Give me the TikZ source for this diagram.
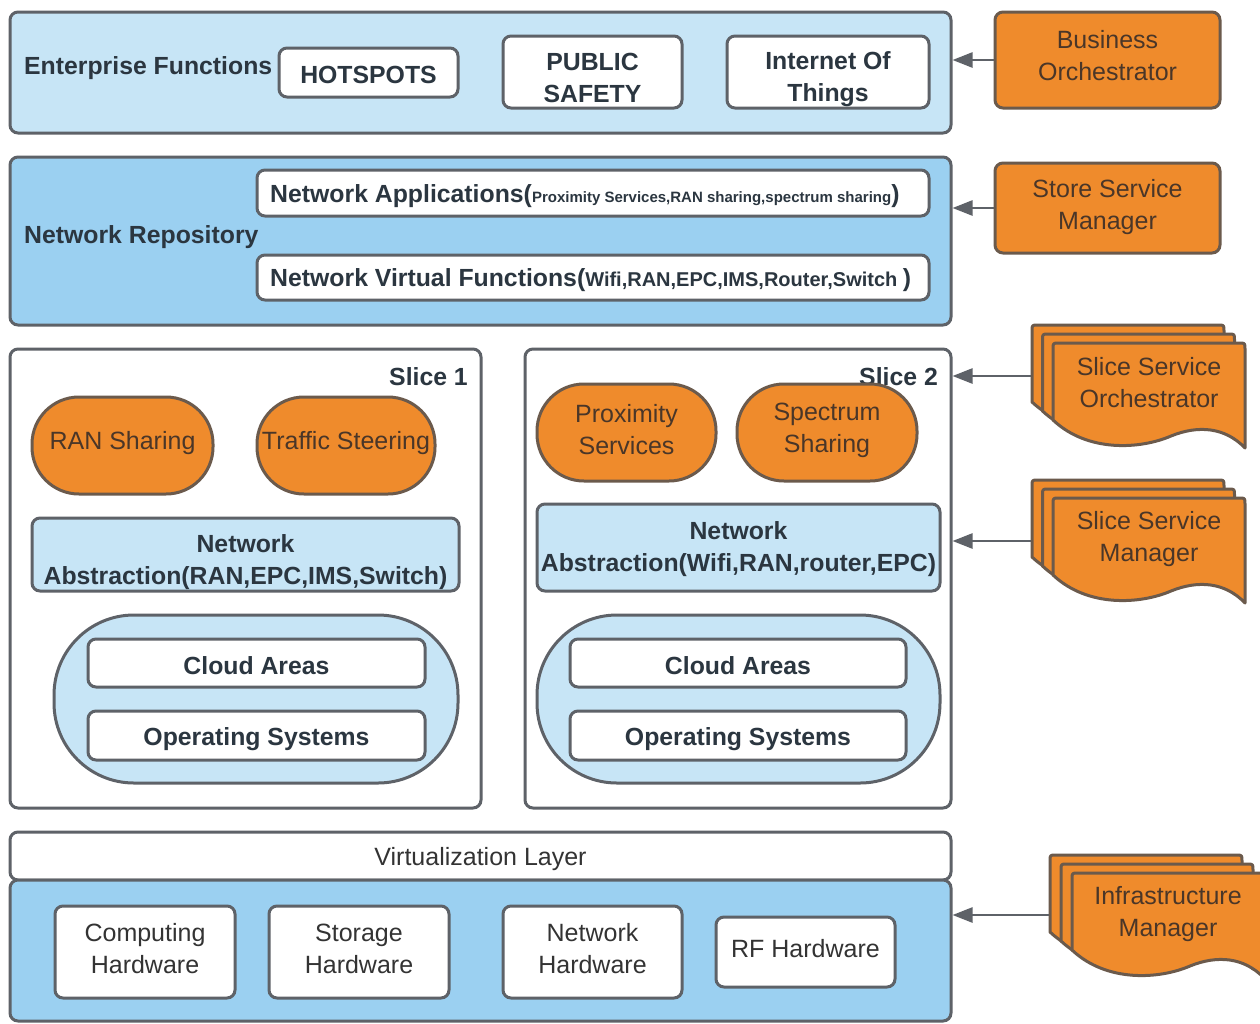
\documentclass[tikz,border=0pt]{standalone}
\usepackage{fontspec}
\setmainfont{Liberation Sans}
\usetikzlibrary{arrows.meta}
\definecolor{lblue}{HTML}{C7E5F6}
\definecolor{mblue}{HTML}{9BD0F1}
\definecolor{orng}{HTML}{EF8B2C}
\definecolor{obrd}{HTML}{6B5A4C}
\definecolor{gbrd}{HTML}{5E6268}
\definecolor{txt}{HTML}{2B3640}
\definecolor{otxt}{HTML}{4A3628}
\definecolor{rtxt}{HTML}{333333}
\newcommand\docshape[2]{%
  \begin{scope}[shift={(#1,#2)}]
    \draw[docst] (0,77) -- (0,6) .. controls (0,0) .. (6,0) -- (186,0)
      .. controls (192,0) .. (192,6) -- (192,105)
      .. controls (172,84) and (145,82) .. (118,93)
      .. controls (88,106) and (35,110) .. (0,77) -- cycle;
  \end{scope}}
\begin{document}
\begin{tikzpicture}[x=1pt,y=-1pt,
  sz/.style n args={2}{minimum width=#1pt,minimum height=#2pt},
  base/.style={draw=gbrd, line width=3pt, rounded corners=8pt, inner sep=0pt},
  wbox/.style={base, fill=white},
  lbox/.style={base, fill=lblue},
  mbox/.style={base, fill=mblue},
  obox/.style={draw=obrd, fill=orng, line width=3pt, rounded corners=8pt, inner sep=0pt},
  pill/.style={obox, rounded corners=47pt},
  cloud/.style={lbox, rounded corners=80pt},
  bt/.style={text=txt, align=center, inner sep=0pt, font=\fontsize{24.8}{32}\selectfont\bfseries},
  rt/.style={text=rtxt, align=center, inner sep=0pt, font=\fontsize{25}{32}\selectfont},
  ot/.style={text=otxt, align=center, inner sep=0pt, font=\fontsize{25}{32}\selectfont},
  docst/.style={draw=obrd, fill=orng, line width=3pt, line join=round},
  conn/.style={draw=gbrd, line width=2.5pt, -{Triangle[length=20pt,width=15pt]}}
]
\useasboundingbox (0,0) rectangle (1260,1023);
\fill[white] (0,0) rectangle (1260,1023);

% Enterprise layer
\node[lbox, sz={941}{121}] (ent) at (480.5,72.5) {};
\node[bt, anchor=west] (entl) at (24,68) {Enterprise Functions};
\node[wbox, sz={179}{49}] (hot) at (368.5,72.5) {};
\node[bt] (hott) at (368.5,75) {HOTSPOTS};
\node[wbox, sz={179}{72}] (pub) at (592.5,72) {};
\node[bt] (pubt) at (592.5,78) {PUBLIC\\SAFETY};
\node[wbox, sz={202}{72}] (iot) at (828,72) {};
\node[bt] (iott) at (828,79) {Internet Of\\Things};
\node[obox, sz={225}{96}] (bo) at (1107.5,60) {};
\node[ot] (bot) at (1107.5,56) {Business\\Orchestrator};
\draw[conn] (bo.west) -- (bo.west -| ent.east);

% Network repository
\node[mbox, sz={941}{168}] (repo) at (480.5,241) {};
\node[bt, anchor=west] (repol) at (24,237) {Network Repository};
\node[wbox, sz={672}{46}] (napp) at (593,193) {};
\node[bt, anchor=west] (nappt) at (270,196)
  {Network Applications({\fontsize{15}{18}\selectfont Proximity Services,RAN sharing,spectrum sharing})};
\node[wbox, sz={672}{45}] (nvf) at (593,277.5) {};
\node[bt, anchor=west] (nvft) at (270,280)
  {Network Virtual Functions({\fontsize{20}{24}\selectfont Wifi,RAN,EPC,IMS,Router,Switch })};
\node[obox, sz={225}{90}] (store) at (1107.5,208) {};
\node[ot] (storet) at (1107.5,207) {Store Service\\Manager};
\draw[conn] (store.west) -- (store.west -| repo.east);

% Slice 1
\node[wbox, sz={471}{459}] (s1) at (245.5,578.5) {};
\node[bt, anchor=east] (s1l) at (468,377) {Slice 1};
\node[pill, sz={181}{97}] (ran) at (122.5,445.5) {};
\node[ot] (rant) at (122.5,443) {RAN Sharing};
\node[pill, sz={178}{97}] (ts) at (346,445.5) {};
\node[ot] (tst) at (346,443) {Traffic Steering};
\node[lbox, sz={427}{73}] (na1) at (245.5,554.5) {};
\node[bt] (na1t) at (245.5,562) {Network\\Abstraction(RAN,EPC,IMS,Switch)};
\node[cloud, sz={404}{168}] (cl1) at (256,699) {};
\node[wbox, sz={337}{48}] (ca1) at (256.5,663) {};
\node[bt] (ca1t) at (256.5,666) {Cloud Areas};
\node[wbox, sz={337}{49}] (os1) at (256.5,735.5) {};
\node[bt] (os1t) at (256.5,739) {Operating Systems};

% Slice 2
\node[wbox, sz={426}{459}] (s2) at (738,578.5) {};
\node[bt, anchor=east] (s2l) at (938,377) {Slice 2};
\node[pill, sz={179}{97}] (prox) at (626.5,432.5) {};
\node[ot] (proxt) at (626.5,430) {Proximity\\Services};
\node[pill, sz={180}{97}] (spec) at (827,432.5) {};
\node[ot] (spect) at (827,430) {Spectrum\\Sharing};
\node[lbox, sz={403}{87}] (na2) at (738.5,547.5) {};
\node[bt] (na2t) at (738.5,549) {Network\\Abstraction(Wifi,RAN,router,EPC)};
\node[cloud, sz={403}{168}] (cl2) at (738.5,699) {};
\node[wbox, sz={336}{48}] (ca2) at (738,663) {};
\node[bt] (ca2t) at (738,666) {Cloud Areas};
\node[wbox, sz={336}{49}] (os2) at (738,735.5) {};
\node[bt] (os2t) at (738,739) {Operating Systems};

% Slice service orchestrator
\docshape{1032}{325}
\docshape{1042.5}{334}
\docshape{1053}{343}
\node[ot] (sso) at (1149,383) {Slice Service\\Orchestrator};
\coordinate (ssoL) at (1031,376);
\draw[conn] (ssoL) -- (ssoL -| s2.east);

% Slice service manager
\docshape{1032}{480}
\docshape{1042.5}{489}
\docshape{1053}{498}
\node[ot] (ssm) at (1149,539) {Slice Service\\Manager};
\coordinate (ssmL) at (1031,541);
\draw[conn] (ssmL) -- (ssmL -| s2.east);

% Virtualization and hardware
\node[wbox, sz={941}{48}] (virt) at (480.5,856) {};
\node[rt] (virtt) at (480.5,859) {Virtualization Layer};
\node[mbox, sz={941}{141}] (hw) at (480.5,950.5) {};
\node[wbox, sz={180}{92}] (comp) at (145,952) {};
\node[rt] (compt) at (145,949) {Computing\\Hardware};
\node[wbox, sz={180}{92}] (stor) at (359,952) {};
\node[rt] (stort) at (359,949) {Storage\\Hardware};
\node[wbox, sz={179}{92}] (nhw) at (592.5,952) {};
\node[rt] (nhwt) at (592.5,949) {Network\\Hardware};
\node[wbox, sz={179}{70}] (rf) at (805.5,952) {};
\node[rt] (rft) at (805.5,949) {RF Hardware};

% Infrastructure manager
\docshape{1050}{855}
\docshape{1061}{864}
\docshape{1072}{873}
\node[ot] (im) at (1168,914) {Infrastructure\\Manager};
\coordinate (imL) at (1049,915);
\draw[conn] (imL) -- (imL -| hw.east);
\end{tikzpicture}
\end{document}
